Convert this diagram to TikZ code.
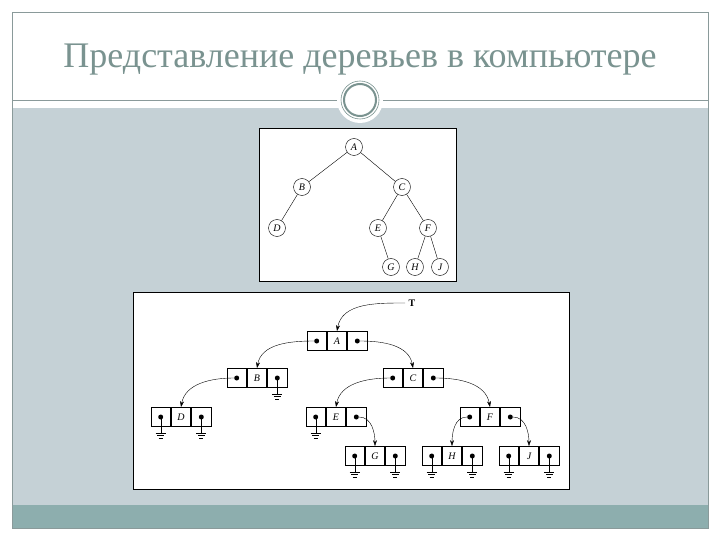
\documentclass[tikz,border=0pt]{standalone}
\usepackage{fontspec}
\setmainfont{Liberation Serif}
\usetikzlibrary{arrows.meta}
\definecolor{slidegrey}{HTML}{C5D1D6}
\definecolor{band}{HTML}{8DAEAE}
\definecolor{titlec}{HTML}{7A9390}
\definecolor{framec}{HTML}{8A9A9A}
\tikzset{
 tn/.style={circle,draw,thin,minimum size=17pt,inner sep=0pt,font=\normalsize\itshape},
 cell/.style={draw,thick,minimum width=19.5pt,minimum height=19pt,inner sep=0pt,font=\normalsize\itshape,fill=white},
 dotc/.style={circle,fill=black,inner sep=0pt,minimum size=5pt},
 ptr/.style={-{Stealth[length=6pt,width=4pt]},thin},
 pics/gnd/.style={code={
   \draw (0,0) -- (0,16);
   \draw (-5,16) -- (5,16); \draw (-3.5,18.5) -- (3.5,18.5); \draw (-2,21) -- (2,21);}}
}
\begin{document}
\begin{tikzpicture}[x=1pt,y=-1pt]
\useasboundingbox (0,0) rectangle (720,540);
\fill[white] (0,0) rectangle (720,540);
\fill[slidegrey] (12,108) rectangle (708,505);
\fill[band] (12,505) rectangle (708,528);
\draw[framec] (12,12) rectangle (708,528);
\draw[framec] (12,100) -- (708,100);
\node[circle,fill=white,minimum size=46pt,inner sep=0pt] (ring) at (360,100) {};
\draw[titlec,line width=2pt] (360,100) circle (16);
\draw[titlec,line width=0.6pt] (360,100) circle (19);
\node[text=titlec,font=\fontsize{36}{40}\selectfont,anchor=base] (title) at (360,68) {Представление деревьев в компьютере};
% top tree
\draw[fill=white] (259,128) rectangle (456,281);
\node[tn] (A) at (354,147) {A};
\node[tn] (B) at (302,187) {B};
\node[tn] (C) at (402,187) {C};
\node[tn] (D) at (277,228) {D};
\node[tn] (E) at (378,228) {E};
\node[tn] (F) at (428,228) {F};
\node[tn] (G) at (391,267) {G};
\node[tn] (H) at (415,267) {H};
\node[tn] (J) at (440,267) {J};
\draw (A)--(B) (A)--(C) (B)--(D) (C)--(E) (C)--(F) (E)--(G) (F)--(H) (F)--(J);
% bottom structure
\draw[fill=white] (133,292) rectangle (569,489);
\foreach \n/\x/\y in {A/337/341,B/257/378,C/413/378,D/181/417,E/336/417,F/490/417,G/375/456,H/452/456,J/529/456}{
  \node[cell] (\n m) at (\x,\y) {\n};
  \node[cell,anchor=east] (\n l) at (\n m.west) {};
  \node[cell,anchor=west] (\n r) at (\n m.east) {};
  \node[dotc] (\n ld) at (\n l.center) {};
  \node[dotc] (\n rd) at (\n r.center) {};
}
\foreach \d in {Dld,Drd,Brd,Eld,Gld,Grd,Hld,Hrd,Jld,Jrd}{ \pic at (\d) {gnd}; }
\node[font=\normalsize\bfseries] (T) at (412,303) {T};
\draw[ptr] (T.west) to[out=180,in=80] (Am.north);
\draw[ptr] (Ald) to[out=180,in=80] (Bm.north);
\draw[ptr] (Ard) to[out=0,in=100] (Cm.north);
\draw[ptr] (Bld) to[out=180,in=80] (Dm.north);
\draw[ptr] (Cld) to[out=180,in=80] (Em.north);
\draw[ptr] (Crd) to[out=0,in=100] (Fm.north);
\draw[ptr] (Erd) to[out=0,in=90] (Gm.north);
\draw[ptr] (Fld) to[out=180,in=90] (Hm.north);
\draw[ptr] (Frd) to[out=0,in=90] (Jm.north);
\end{tikzpicture}
\end{document}
